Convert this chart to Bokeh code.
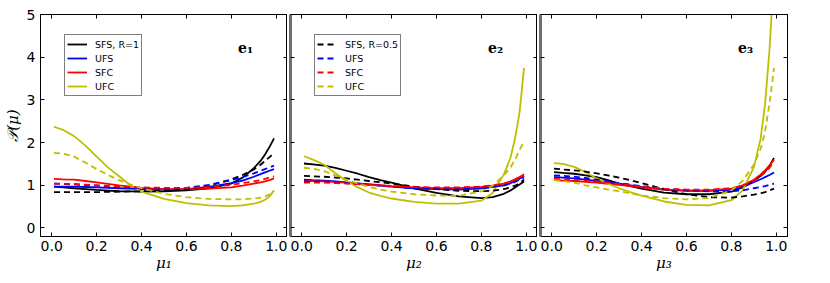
from bokeh.plotting import figure
from bokeh.layouts import row
from bokeh.models import (LinearAxis, FixedTicker, CustomJSTickFormatter, Range1d,
                          Label, NumeralTickFormatter)
from bokeh.embed import file_html
from bokeh.resources import INLINE

# ---------------- data ----------------
mu = [0.01, 0.05, 0.1, 0.15, 0.2, 0.25, 0.3, 0.35, 0.4, 0.5, 0.6, 0.7, 0.8,
      0.85, 0.9, 0.93, 0.95, 0.97, 0.99]

series = ["SFS", "UFS", "SFC", "UFC"]
legend_solid = ["SFS, R=1", "UFS", "SFC", "UFC"]
legend_dashed = ["SFS, R=0.5", "UFS", "SFC", "UFC"]
colors = ["#000000", "#0000ff", "#ff0000", "#bfbf00"]

# panel e1 (mu_1)  -- solid: R=1, dashed: R=0.5
e1_SFS_R1 = [0.97, 0.95, 0.93, 0.91, 0.89, 0.875, 0.86, 0.855, 0.85, 0.86, 0.88, 0.93, 1.04, 1.18, 1.40, 1.57, 1.72, 1.90, 2.10]
e1_UFS_R1 = [0.97, 0.97, 0.97, 0.96, 0.95, 0.94, 0.93, 0.92, 0.91, 0.90, 0.91, 0.96, 1.05, 1.11, 1.20, 1.26, 1.30, 1.34, 1.38]
e1_SFC_R1 = [1.15, 1.14, 1.13, 1.10, 1.07, 1.035, 1.00, 0.97, 0.94, 0.91, 0.91, 0.92, 0.95, 0.99, 1.04, 1.07, 1.09, 1.12, 1.16]
e1_UFC_R1 = [2.37, 2.30, 2.15, 1.93, 1.67, 1.42, 1.21, 1.00, 0.85, 0.68, 0.58, 0.53, 0.51, 0.53, 0.57, 0.61, 0.66, 0.74, 0.88]
e1_SFS_R05 = [0.84, 0.84, 0.84, 0.84, 0.84, 0.845, 0.85, 0.855, 0.86, 0.87, 0.91, 0.99, 1.14, 1.24, 1.37, 1.48, 1.57, 1.66, 1.75]
e1_UFS_R05 = [1.04, 1.03, 1.02, 1.005, 0.99, 0.97, 0.95, 0.94, 0.93, 0.92, 0.94, 1.01, 1.12, 1.19, 1.28, 1.34, 1.38, 1.42, 1.46]
e1_SFC_R05 = [1.04, 1.035, 1.03, 1.015, 1.00, 0.985, 0.97, 0.96, 0.95, 0.94, 0.94, 0.96, 1.01, 1.05, 1.09, 1.12, 1.15, 1.18, 1.21]
e1_UFC_R05 = [1.76, 1.74, 1.67, 1.53, 1.38, 1.24, 1.12, 1.02, 0.93, 0.80, 0.72, 0.68, 0.67, 0.67, 0.69, 0.71, 0.74, 0.78, 0.82]

# panel e2 (mu_2)
e2_SFS_R1 = [1.51, 1.49, 1.46, 1.41, 1.34, 1.27, 1.19, 1.12, 1.06, 0.93, 0.82, 0.74, 0.70, 0.72, 0.80, 0.88, 0.95, 1.02, 1.09]
e2_UFS_R1 = [1.13, 1.12, 1.11, 1.09, 1.07, 1.045, 1.02, 0.995, 0.97, 0.93, 0.91, 0.90, 0.93, 0.96, 1.00, 1.05, 1.10, 1.15, 1.22]
e2_SFC_R1 = [1.10, 1.095, 1.09, 1.075, 1.06, 1.04, 1.02, 1.00, 0.98, 0.95, 0.93, 0.93, 0.96, 0.99, 1.04, 1.09, 1.14, 1.19, 1.26]
e2_UFC_R1 = [1.68, 1.60, 1.48, 1.28, 1.10, 0.95, 0.83, 0.75, 0.69, 0.61, 0.57, 0.57, 0.64, 0.82, 1.25, 1.65, 2.10, 2.70, 3.75]
e2_SFS_R05 = [1.22, 1.21, 1.20, 1.18, 1.16, 1.13, 1.10, 1.07, 1.04, 0.97, 0.91, 0.87, 0.86, 0.87, 0.91, 0.95, 0.99, 1.05, 1.13]
e2_UFS_R05 = [1.09, 1.085, 1.08, 1.065, 1.05, 1.03, 1.01, 0.99, 0.97, 0.93, 0.91, 0.91, 0.93, 0.96, 1.00, 1.04, 1.08, 1.13, 1.18]
e2_SFC_R05 = [1.06, 1.06, 1.06, 1.05, 1.04, 1.025, 1.01, 0.995, 0.98, 0.96, 0.95, 0.95, 0.97, 1.00, 1.04, 1.08, 1.12, 1.16, 1.21]
e2_UFC_R05 = [1.41, 1.39, 1.33, 1.23, 1.13, 1.04, 0.96, 0.90, 0.85, 0.79, 0.76, 0.75, 0.86, 0.99, 1.23, 1.42, 1.60, 1.83, 2.02]

# panel e3 (mu_3)
e3_SFS_R1 = [1.31, 1.29, 1.27, 1.23, 1.19, 1.12, 1.04, 0.98, 0.92, 0.83, 0.79, 0.79, 0.85, 0.95, 1.10, 1.22, 1.32, 1.46, 1.64]
e3_UFS_R1 = [1.19, 1.18, 1.16, 1.13, 1.10, 1.065, 1.03, 0.995, 0.96, 0.90, 0.87, 0.87, 0.90, 0.96, 1.07, 1.14, 1.19, 1.24, 1.30]
e3_SFC_R1 = [1.12, 1.11, 1.10, 1.08, 1.06, 1.035, 1.01, 0.98, 0.95, 0.90, 0.88, 0.88, 0.92, 1.00, 1.13, 1.25, 1.35, 1.46, 1.60]
e3_UFC_R1 = [1.52, 1.50, 1.43, 1.31, 1.16, 1.04, 0.93, 0.84, 0.76, 0.62, 0.54, 0.53, 0.65, 0.88, 1.42, 2.08, 2.90, 4.18, 6.00]
e3_SFS_R05 = [1.39, 1.37, 1.35, 1.32, 1.28, 1.23, 1.18, 1.12, 1.05, 0.91, 0.79, 0.72, 0.71, 0.74, 0.78, 0.81, 0.84, 0.88, 0.92]
e3_UFS_R05 = [1.23, 1.22, 1.20, 1.17, 1.13, 1.09, 1.05, 1.015, 0.98, 0.92, 0.88, 0.86, 0.86, 0.88, 0.93, 0.96, 0.98, 1.01, 1.04]
e3_SFC_R05 = [1.15, 1.14, 1.13, 1.11, 1.09, 1.06, 1.03, 1.00, 0.97, 0.92, 0.90, 0.90, 0.93, 0.99, 1.10, 1.21, 1.30, 1.41, 1.55]
e3_UFC_R05 = [1.12, 1.10, 1.06, 1.00, 0.95, 0.90, 0.86, 0.81, 0.76, 0.70, 0.67, 0.70, 0.88, 1.10, 1.48, 1.85, 2.25, 2.93, 3.75]

x_ticks = [0.0, 0.2, 0.4, 0.6, 0.8, 1.0]
y_ticks = [0, 1, 2, 3, 4, 5]
x_labels = ["\u03bc\u2081", "\u03bc\u2082", "\u03bc\u2083"]
panel_labels = ["e\u2081", "e\u2082", "e\u2083"]
y_label = "\U0001D4AB(\u03bc)"

panels = [
    ([e1_SFS_R1, e1_UFS_R1, e1_SFC_R1, e1_UFC_R1], [e1_SFS_R05, e1_UFS_R05, e1_SFC_R05, e1_UFC_R05]),
    ([e2_SFS_R1, e2_UFS_R1, e2_SFC_R1, e2_UFC_R1], [e2_SFS_R05, e2_UFS_R05, e2_SFC_R05, e2_UFC_R05]),
    ([e3_SFS_R1, e3_UFS_R1, e3_SFC_R1, e3_UFC_R1], [e3_SFS_R05, e3_UFS_R05, e3_SFC_R05, e3_UFC_R05]),
]

TICK_FONT = "DejaVu Sans"
empty_fmt = "return ''"


def style_axis(ax, show_labels, line_color="black", line_width=1):
    ax.major_tick_in = 4
    ax.major_tick_out = 0
    ax.minor_tick_in = 0
    ax.minor_tick_out = 0
    ax.axis_line_color = line_color
    ax.axis_line_width = line_width
    ax.major_tick_line_color = "black"
    ax.major_label_text_font = TICK_FONT
    ax.major_label_text_font_size = "14px"
    ax.major_label_text_color = "black"
    if not show_labels:
        ax.formatter = CustomJSTickFormatter(code=empty_fmt)
        ax.major_label_standoff = 0


figs = []
for i, (solid, dashed) in enumerate(panels):
    first = i == 0
    p = figure(frame_width=247, frame_height=222,
               x_range=Range1d(-0.05, 1.05), y_range=Range1d(-0.2, 5.0),
               output_backend="svg", toolbar_location=None,
               min_border_left=33 if first else 3, min_border_right=0,
               min_border_top=14, min_border_bottom=0,
               x_axis_location="below", y_axis_location="left")
    p.xgrid.visible = False
    p.ygrid.visible = False
    p.outline_line_color = "black"
    p.outline_line_width = 1
    p.background_fill_color = "white"
    p.border_fill_color = "white"

    # bottom axis
    xa = p.xaxis[0]
    xa.ticker = FixedTicker(ticks=x_ticks)
    xa.formatter = NumeralTickFormatter(format="0.0")
    style_axis(xa, True)
    xa.major_label_standoff = 4
    xa.axis_label = x_labels[i]
    xa.axis_label_text_font = "DejaVu Serif"
    xa.axis_label_text_font_style = "italic"
    xa.axis_label_text_font_size = "15px"
    xa.axis_label_text_color = "black"
    xa.axis_label_standoff = 0

    # left axis
    ya = p.yaxis[0]
    ya.ticker = FixedTicker(ticks=y_ticks)
    if first:
        ya.formatter = NumeralTickFormatter(format="0")
        style_axis(ya, True)
        ya.major_label_standoff = 5
        ya.axis_label = y_label
        ya.axis_label_text_font = "DejaVu Serif"
        ya.axis_label_text_font_style = "italic"
        ya.axis_label_text_font_size = "15px"
        ya.axis_label_text_color = "black"
        ya.axis_label_standoff = 2
    else:
        style_axis(ya, False, line_color="#6e6e6e", line_width=3)

    # top and right axes: inward ticks only
    ta = LinearAxis(ticker=FixedTicker(ticks=x_ticks))
    style_axis(ta, False)
    p.add_layout(ta, "above")
    ra = LinearAxis(ticker=FixedTicker(ticks=y_ticks))
    style_axis(ra, False)
    p.add_layout(ra, "right")

    for k in range(4):
        kw = {"legend_label": legend_solid[k]} if i == 0 else {}
        p.line(mu, solid[k], line_color=colors[k], line_width=1.8, **kw)
    for k in range(4):
        kw = {"legend_label": legend_dashed[k]} if i == 1 else {}
        p.line(mu, dashed[k], line_color=colors[k], line_width=1.8,
               line_dash="6 4", **kw)

    p.add_layout(Label(x=0.83, y=4.21, text=panel_labels[i],
                       text_font="DejaVu Serif", text_font_style="bold",
                       text_font_size="14px", text_color="black",
                       text_baseline="alphabetic"))

    if i in (0, 1):
        lg = p.legend[0]
        lg.location = (24, 140)
        lg.border_line_color = "black"
        lg.border_line_width = 1
        lg.background_fill_color = "white"
        lg.background_fill_alpha = 1
        lg.label_text_font = TICK_FONT
        lg.label_text_font_size = "9.5px"
        lg.label_text_color = "black"
        lg.glyph_width = 20
        lg.glyph_height = 14
        lg.label_height = 14
        lg.label_standoff = 8
        lg.spacing = 0
        lg.padding = 2
        lg.margin = 0
    figs.append(p)

figs[2].min_border_right = 20

layout = row(*figs, spacing=0)
open("out.html", "w").write(file_html(layout, INLINE))
